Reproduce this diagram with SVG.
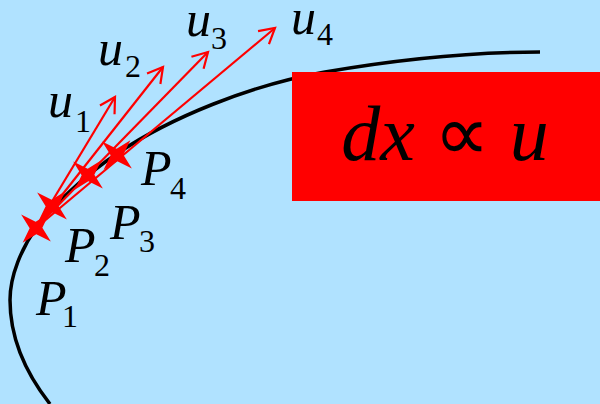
<svg xmlns="http://www.w3.org/2000/svg" xmlns:xlink="http://www.w3.org/1999/xlink" width="600" height="404" viewBox="0 0 600 404">
<style>
.lbl{font-family:"Liberation Serif","Times New Roman",serif;font-style:italic;font-size:50px;fill:#000}
.sub{font-style:normal;font-size:32px}
.vec{stroke:#ff0000;stroke-width:2.2;fill:none}
.star{fill:#ff0000}
.big{font-family:"Liberation Serif","Times New Roman",serif;font-size:78px;fill:#000}
</style>
<defs>
<marker id="ah" markerUnits="userSpaceOnUse" markerWidth="34" markerHeight="34" viewBox="-17 -17 34 34" refX="0" refY="0" orient="auto">
<path d="M-15,-8.5 L0,0 L-15,8.5" fill="none" stroke="#ff0000" stroke-width="2.2"/>
</marker>
<path id="star" d="M0,-20 L4.5,-4.5 L20,0 L4.5,4.5 L0,20 L-4.5,4.5 L-20,0 L-4.5,-4.5 Z"/>
</defs>
<rect width="600" height="404" fill="#b0e2ff"/>
<g id="curve">
<path d="M50,404 C28,376 10,340 10,300 C10,275 22,248 36,228 C50,208 85,175 118,153 C170,118 250,85 325,72 C400,59 470,52 540,52" fill="none" stroke="#000" stroke-width="3.5"/>
</g>
<g id="box">
<rect x="292" y="72" width="308" height="129" fill="#ff0000"/>
<text class="big" x="445" y="160" text-anchor="middle"><tspan font-style="italic">dx</tspan><tspan> ∝ </tspan><tspan font-style="italic">u</tspan></text>
</g>
<g id="connectors">
<line class="vec" x1="36" y1="228" x2="115" y2="97" marker-end="url(#ah)"/>
<line class="vec" x1="36" y1="228" x2="163" y2="67" marker-end="url(#ah)"/>
<line class="vec" x1="36" y1="228" x2="208" y2="52" marker-end="url(#ah)"/>
<line class="vec" x1="36" y1="228" x2="275" y2="28" marker-end="url(#ah)"/>
</g>
<g id="P1"><use xlink:href="#star" class="star" transform="translate(36,228) rotate(42)"/>
<text class="lbl" x="36" y="315">P<tspan class="sub" x="62" y="327">1</tspan></text></g>
<g id="P2"><use xlink:href="#star" class="star" transform="translate(52,206) rotate(42)"/>
<text class="lbl" x="65" y="262">P<tspan class="sub" x="94" y="276">2</tspan></text></g>
<g id="P3"><use xlink:href="#star" class="star" transform="translate(88,175) rotate(42)"/>
<text class="lbl" x="110" y="239">P<tspan class="sub" x="139" y="252">3</tspan></text></g>
<g id="P4"><use xlink:href="#star" class="star" transform="translate(117,155) rotate(42)"/>
<text class="lbl" x="141" y="185">P<tspan class="sub" x="170" y="199">4</tspan></text></g>
<g id="u1"><text class="lbl" x="48" y="117">u<tspan class="sub" x="75" y="132">1</tspan></text></g>
<g id="u2"><text class="lbl" x="98" y="65">u<tspan class="sub" x="125" y="77">2</tspan></text></g>
<g id="u3"><text class="lbl" x="186" y="36">u<tspan class="sub" x="211" y="49">3</tspan></text></g>
<g id="u4"><text class="lbl" x="291" y="34">u<tspan class="sub" x="317" y="45">4</tspan></text></g>
</svg>
